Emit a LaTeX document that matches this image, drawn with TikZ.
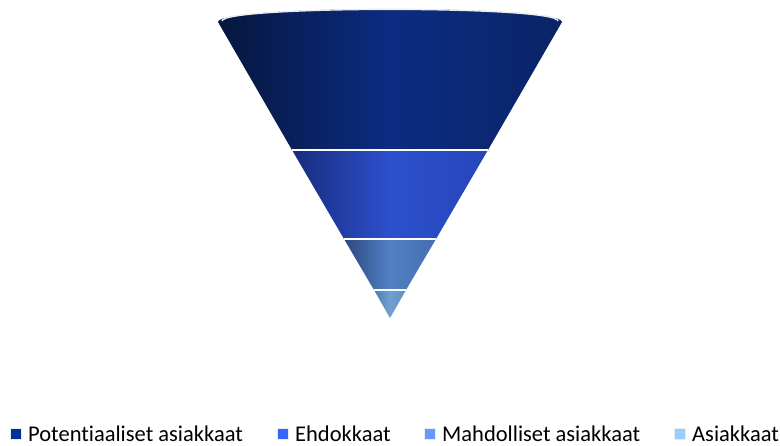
\documentclass[tikz,border=0pt]{standalone}
\usepackage{fontspec}
\setmainfont[Ligatures=NoCommon]{Carlito}
\usetikzlibrary{positioning}
\definecolor{potcol}{HTML}{003399}
\definecolor{ehdcol}{HTML}{3366FF}
\definecolor{mahcol}{HTML}{6699FF}
\definecolor{asicol}{HTML}{99CCFF}

\begin{document}
\begin{tikzpicture}[x=1pt,y=-1pt,
    legbox/.style={draw=white!92!black,line width=0.6pt,minimum size=11pt,inner sep=0pt},
    legtext/.style={inner sep=0pt,anchor=base west,font=\fontsize{22.5}{26}\selectfont},
    band/.style={white,line width=1.6pt}]
    \useasboundingbox (0,0) rectangle (780,446);
        \pgfmathsetmacro{\ax}{390}
        \pgfmathsetmacro{\ay}{318}
        \pgfmathsetmacro{\k}{0.581}
        % funnel bands, top to bottom
        \shade[left color={rgb,255:red,6;green,22;blue,62},right color={rgb,255:red,10;green,36;blue,104},middle color={rgb,255:red,12;green,44;blue,130}]
          (218,22) .. controls (218,4.7) and (562,4.7) .. (562,22) -- (488,150) -- (292,150) -- cycle;
        \shade[left color={rgb,255:red,24;green,44;blue,125},right color={rgb,255:red,38;green,70;blue,185},middle color={rgb,255:red,44;green,80;blue,205}]
          (292,150) -- (488,150) -- (436,239) -- (344,239) -- cycle;
        \shade[left color={rgb,255:red,44;green,72;blue,128},right color={rgb,255:red,70;green,110;blue,178},middle color={rgb,255:red,82;green,128;blue,196}]
          (344,239) -- (436,239) -- (406,290) -- (374,290) -- cycle;
        \shade[left color={rgb,255:red,80;green,124;blue,172},right color={rgb,255:red,96;green,142;blue,190},middle color={rgb,255:red,112;green,160;blue,210}]
          (374,290) -- (406,290) -- (\ax,\ay) -- cycle;
        % rim and separators
        \draw[white!85!gray,line width=1.4pt] (222,21) .. controls (222,5.5) and (558,5.5) .. (558,21);
        \foreach \y in {150,239,290}{
          \pgfmathsetmacro{\hw}{\k*(\ay-\y)}
          \draw[band] ({\ax-\hw},\y) -- ({\ax+\hw},\y);
          }
        % legend
        \node[legtext] (potlab) at (28,441.5) {Potentiaaliset asiakkaat};
        \node[legtext] (ehdlab) at (295,441.5) {Ehdokkaat};
        \node[legtext] (mahlab) at (442,441.5) {Mahdolliset asiakkaat};
        \node[legtext] (asilab) at (692,441.5) {Asiakkaat};
        \node[legbox,fill=potcol,left=6pt of potlab.west] (potbox) {};
        \node[legbox,fill=ehdcol,left=6pt of ehdlab.west] (ehdbox) {};
        \node[legbox,fill=mahcol,left=6pt of mahlab.west] (mahbox) {};
        \node[legbox,fill=asicol,left=6pt of asilab.west] (asibox) {};
    \end{tikzpicture}
\end{document}
